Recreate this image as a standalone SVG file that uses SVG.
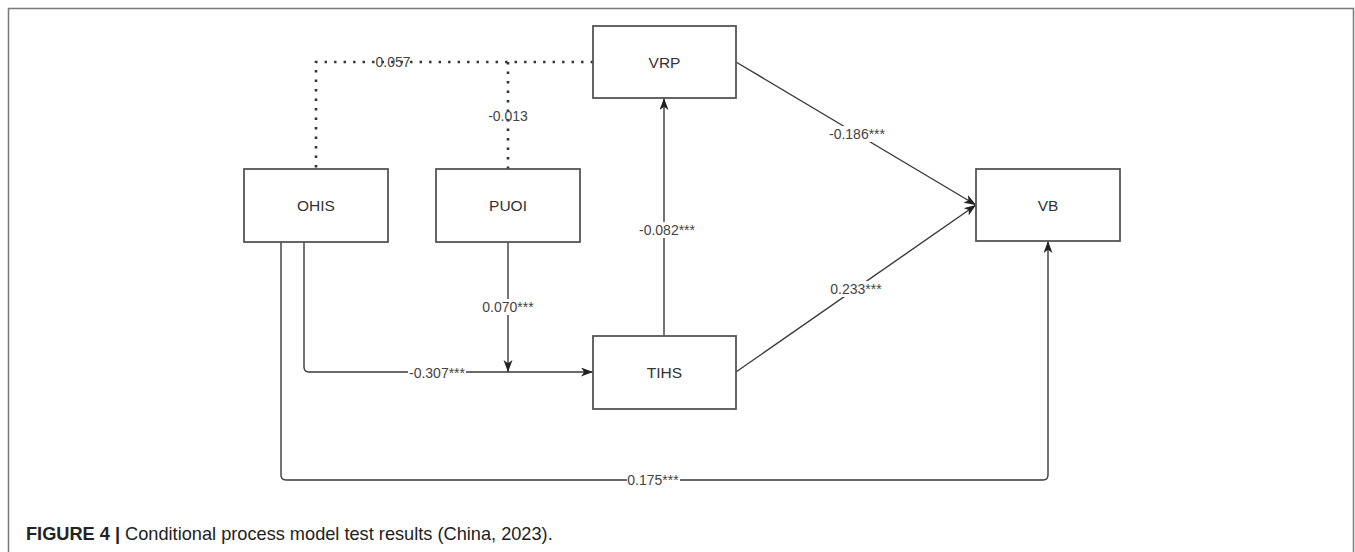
<svg xmlns="http://www.w3.org/2000/svg" width="1355" height="552" viewBox="0 0 1355 552">
<style>
.box{fill:#fff;stroke:#555;stroke-width:1.8}
.nlabel{font-family:"Liberation Sans",Arial,sans-serif;font-size:15.5px;fill:#333;text-anchor:middle}
.edge{fill:none;stroke:#3a3a3a;stroke-width:1.4}
.dot{fill:none;stroke:#333;stroke-width:2.6;stroke-dasharray:2.4 7.1}
.elabel{font-family:"Liberation Sans",Arial,sans-serif;font-size:14px;fill:#444;text-anchor:middle}
.lbg{fill:#fff}
.frame{fill:none;stroke:#7a7a7a;stroke-width:1.5}
.cap{font-family:"Liberation Sans",Arial,sans-serif;font-size:18.2px;fill:#222}
</style>
<defs>
<marker id="arr" markerUnits="userSpaceOnUse" markerWidth="14" markerHeight="11" refX="12" refY="4.5" orient="auto">
<path d="M0,0 L12,4.5 L0,9 L3.2,4.5 Z" fill="#222"/>
</marker>
</defs>
<rect width="1355" height="552" fill="#fff"/>
<path class="frame" d="M8.5,552 V8.5 H1353.5 V552"/>

<g id="connectors">
<path class="dot" d="M593,62 H316 V169"/>
<path class="dot" d="M508,62 V169"/>
<path class="edge" d="M304,242 V367 Q304,372 309,372 H593" marker-end="url(#arr)"/>
<path class="edge" d="M508,242 V372" marker-end="url(#arr)"/>
<path class="edge" d="M281,242 V475 Q281,480 286,480 H1043 Q1048,480 1048,475 V241" marker-end="url(#arr)"/>
<path class="edge" d="M664,336 V98" marker-end="url(#arr)"/>
<path class="edge" d="M736,62 L976,205" marker-end="url(#arr)"/>
<path class="edge" d="M736,372 L976,205" marker-end="url(#arr)"/>
<text class="elabel" x="393" y="67">0.057</text>
<text class="elabel" x="508" y="121">-0.013</text>
<rect class="lbg" x="828" y="126" width="58" height="16"/>
<text class="elabel" x="857" y="139">-0.186***</text>
<rect class="lbg" x="830" y="281" width="53" height="16"/>
<text class="elabel" x="856" y="294">0.233***</text>
<rect class="lbg" x="638" y="222" width="58" height="16"/>
<text class="elabel" x="667" y="235">-0.082***</text>
<rect class="lbg" x="482" y="299" width="53" height="16"/>
<text class="elabel" x="508" y="312">0.070***</text>
<rect class="lbg" x="408" y="365" width="58" height="16"/>
<text class="elabel" x="437" y="378">-0.307***</text>
<rect class="lbg" x="627" y="472" width="53" height="16"/>
<text class="elabel" x="653" y="485">0.175***</text>
</g>

<g id="VRP"><rect class="box" x="593" y="26" width="143" height="72"/><text class="nlabel" x="664.5" y="67.5">VRP</text></g>
<g id="OHIS"><rect class="box" x="244" y="169" width="144" height="73"/><text class="nlabel" x="316" y="211">OHIS</text></g>
<g id="PUOI"><rect class="box" x="436" y="169" width="144" height="73"/><text class="nlabel" x="508" y="211">PUOI</text></g>
<g id="TIHS"><rect class="box" x="593" y="336" width="143" height="73"/><text class="nlabel" x="664.5" y="378">TIHS</text></g>
<g id="VB"><rect class="box" x="976" y="169" width="144" height="72"/><text class="nlabel" x="1048" y="210.5">VB</text></g>

<text class="cap" x="26" y="540"><tspan font-weight="bold">FIGURE 4 | </tspan>Conditional process model test results (China, 2023).</text>
</svg>
